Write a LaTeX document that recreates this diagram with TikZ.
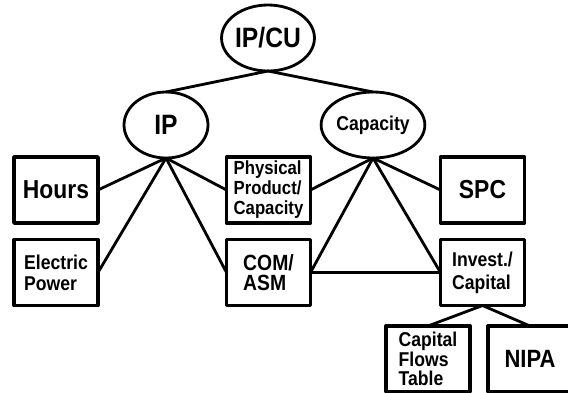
\documentclass[tikz,border=0pt]{standalone}
\usepackage{fontspec}
\setmainfont{Liberation Sans}[FakeStretch=0.88]
\usetikzlibrary{shapes}

\begin{document}
\begin{tikzpicture}[x=1pt, y=-1pt, line join=round, %
      blob/.style={ellipse, draw, line width=2.8pt, minimum width=84pt, minimum height=66pt, inner sep=0pt, outer sep=0pt}, %
      box/.style={rectangle, draw, line width=3.4pt, minimum width=84pt, minimum height=66pt, inner sep=0pt, outer sep=0pt, align=left}, %
      link/.style={line width=2.8pt}, %
      ]
    \clip (0,0) rectangle (568,392);

    \foreach \a/\kind/\sz/\sk/\x/\y/\lab in { %
      ipcu/blob/28/30/268/38/{IP/CU},%
      ip/blob/28/30/166/125/{IP},%
      cap/blob/20/22/373/125/{Capacity},%
      hours/box/26/28/56/190/{Hours},%
      elec/box/20/21/56/272.5/{Electric\\Power},%
      phys/box/19/20/268.5/190/{Physical\\Product/\\Capacity},%
      comasm/box/22/20/268.5/272.5/{COM/\\ASM},%
      spc/box/26/28/482.5/190/{SPC},%
      invest/box/20/23/482.5/272.5/{Invest./\\Capital},%
      cft/box/20/19.5/428/359/{Capital\\Flows\\Table},%
      nipa/box/25/28/530/359/{NIPA}%
    }{ %
      \node[\kind, font={\bfseries\fontsize{\sz}{\sk}\selectfont}] (\a) at (\x,\y) {\lab};
      }

      \foreach \from/\to in { %
        ipcu.south/ip.north, ipcu.south/cap.north, %
        ip.south/hours.east, ip.south/elec.east, ip.south/phys.west, ip.south/comasm.west, %
        cap.south/phys.east, cap.south/comasm.east, cap.south/spc.west, cap.south/invest.west, %
        comasm.east/invest.west, %
        invest.south/cft.north, invest.south/nipa.north%
      }{ \draw[link] (\from) -- (\to);
      }
    \end{tikzpicture}
\end{document}
